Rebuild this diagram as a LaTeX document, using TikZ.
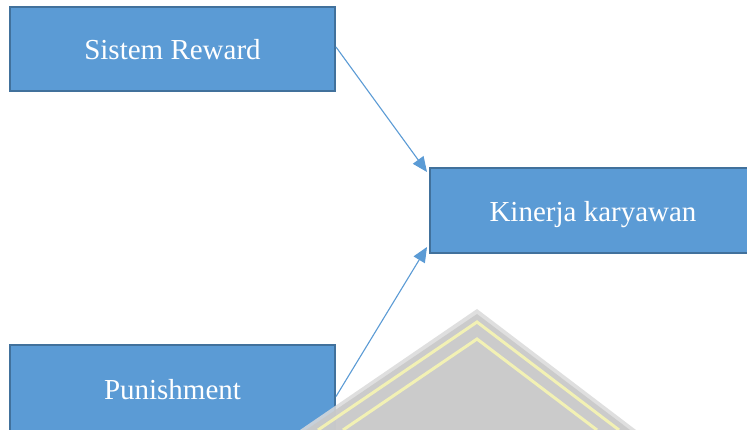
\documentclass[tikz,border=0pt]{standalone}
\usepackage{fontspec}
\setmainfont{Liberation Serif}
\usetikzlibrary{arrows.meta,calc}
\definecolor{boxfill}{HTML}{5B9BD5}
\definecolor{boxline}{HTML}{41719C}
\definecolor{wmgray}{HTML}{C8C8C8}
\definecolor{wmedge}{HTML}{DADADA}
\definecolor{wmyellow}{HTML}{FAF8B0}
\begin{document}
\begin{tikzpicture}[x=1pt,y=-1pt,
  varbox/.style={draw=boxline, line width=2pt, fill=boxfill, text=white,
    minimum width=325pt, inner sep=0pt, text height=28pt, text depth=6pt,
    font=\fontsize{29}{32}\selectfont},
  link/.style={draw=boxfill, line width=1.1pt,
    -{Triangle[length=15pt,width=13pt]}}]
\useasboundingbox (0,0) rectangle (747,430);
\clip (0,0) rectangle (747,430);
\fill[white] (0,0) rectangle (747,430);
% boxes
\node[varbox, minimum height=84pt] (r) at (172.5,49) {Sistem Reward};
\node[varbox, minimum width=326pt, minimum height=85pt] (k) at (593,210.5) {Kinerja karyawan};
\node[varbox, minimum height=87pt] (p) at (172.5,388.5) {Punishment};
% connectors
\coordinate (rs) at ($(r.east)+(0,-2)$);
\coordinate (kt) at ($(k.north west)+(-2,5)$);
\coordinate (ps) at ($(p.east)+(0,8)$);
\coordinate (kb) at ($(k.south west)+(-2,-7)$);
\draw[link] (rs) -- (kt);
\draw[link] (ps) -- (kb);
% watermark
\begin{scope}[opacity=0.85]
\fill[wmedge] (300,430) -- (477,309) -- (636,430) -- cycle;
\fill[wmgray] (306,430) -- (477,314) -- (630,430) -- cycle;
\draw[wmyellow, line width=3pt] (318,430) -- (477,322) -- (619,430);
\draw[wmyellow, line width=3pt] (343,430) -- (477,339) -- (597,430);
\end{scope}
\end{tikzpicture}
\end{document}
